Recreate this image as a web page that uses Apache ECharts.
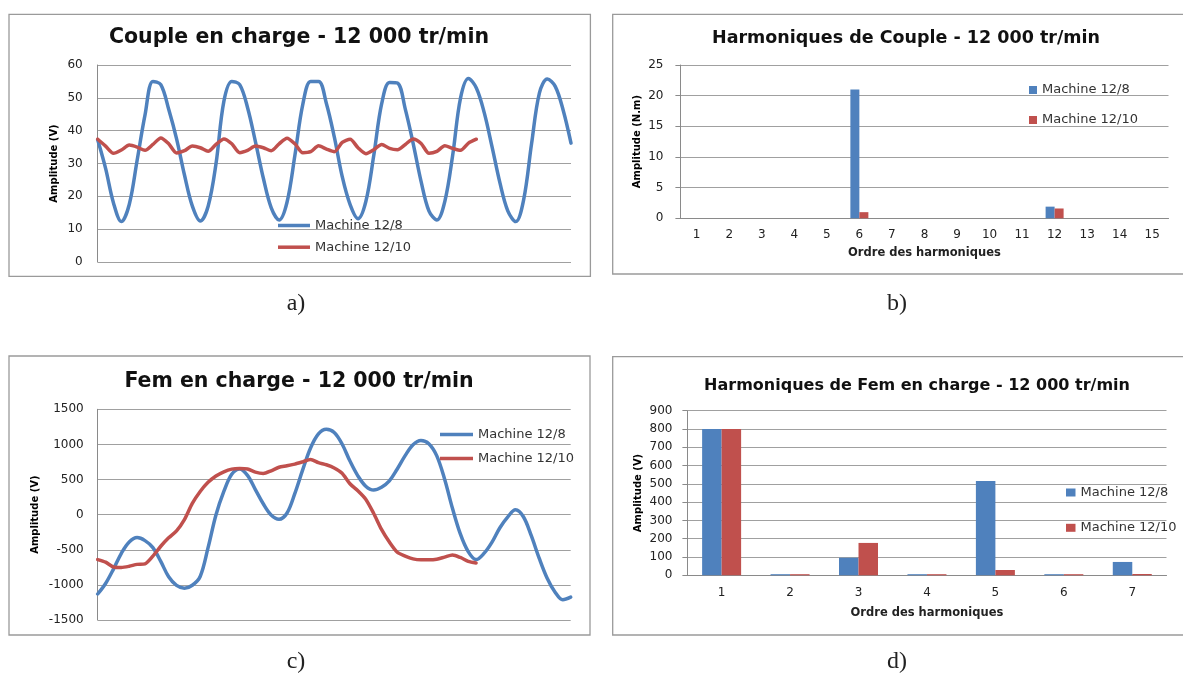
<!DOCTYPE html>
<html><head><meta charset="utf-8">
<script src="https://cdn.jsdelivr.net/npm/echarts@6/dist/echarts.min.js"></script>
<style>html,body{margin:0;padding:0;background:#fff}#c{width:1183px;height:678px}</style>
</head><body><div id="c"></div>
<script>
const sampleIndex = [1,2,3,4,5,6,7,8,9,10,11,12,13,14,15,16,17,18,19,20,21,22,23,24,25,26,27,28,29,30,31,32,33,34,35,36,37,38,39,40,41,42,43,44,45,46,47,48,49,50,51,52,53,54,55,56,57,58,59,60,61];
const seriesNames = ['Machine 12/8', 'Machine 12/10'];

const coupleBlue = [37.2, 28.5, 18, 12.3, 17.5, 31, 44.8, 55, 54, 46.5,
 37.5, 26.5, 17, 12.5, 17, 30, 49, 55, 54, 47,
 36.6, 25.5, 16.5, 12.8, 18.2, 32.5, 48, 55, 55, 48.2,
 38, 26, 17.5, 13.2, 18.5, 32.5, 48.2, 54.7, 54.5, 46.5,
 36, 24.5, 15.5, 12.8, 18.4, 32.5, 50, 55.9, 53, 45.5,
 35, 24, 15.5, 12.3, 19, 36, 51.5, 55.7, 53.5, 46.3,
 36.2];
const coupleRed = [37.4, 35.3, 33.1, 34.1, 35.6, 35.0, 34.0, 35.8, 37.8, 36.0,
 33.2, 33.9, 35.3, 34.8, 33.7, 35.8, 37.5, 36.0, 33.3, 34.0,
 35.3, 34.8, 33.9, 36.0, 37.7, 36.0, 33.3, 33.6, 35.4, 34.4,
 33.6, 36.4, 37.4, 34.8, 33.0, 34.2, 35.8, 34.6, 34.2, 35.8,
 37.5, 36.1, 33.1, 33.7, 35.4, 34.6, 34.0, 36.2, 37.4];

const harmOrderCouple = ['1','2','3','4','5','6','7','8','9','10','11','12','13','14','15'];
const harmCoupleBlue = [0, 0, 0, 0, 0, 21, 0, 0, 0, 0, 0, 1.9, 0, 0, 0];
const harmCoupleRed  = [0, 0, 0, 0, 0, 1.0, 0, 0, 0, 0, 0, 1.6, 0, 0, 0];

const femBlue = [-1130, -980, -775, -550, -390, -327, -370, -470, -665, -885,
 -1007, -1047, -1005, -880, -470, -5, 330, 575, 650, 560,
 357, 155, -5, -65, 20, 300, 637, 950, 1150, 1215,
 1170, 1006, 763, 553, 405, 350, 390, 480, 650, 840,
 995, 1055, 1010, 840, 507, 90, -275, -527, -640, -552,
 -395, -190, -35, 68, -30, -300, -620, -902, -1100, -1212,
 -1175];
const femRed = [-640, -677, -745, -752, -735, -708, -700, -590, -450, -330,
 -230, -70, 160, 330, 460, 550, 610, 648, 657, 650,
 605, 586, 625, 675, 695, 720, 752, 786, 740, 710,
 665, 590, 440, 340, 220, 20, -210, -390, -535, -590,
 -630, -643, -643, -635, -605, -575, -610, -665, -688];

const harmOrderFem = ['1','2','3','4','5','6','7'];
const harmFemBlue = [800, 6, 96, 6, 516, 6, 73];
const harmFemRed  = [800, 6, 177, 6, 29, 6, 7];

const BLUE = '#4F81BD', RED = '#C0504D';
const GRID = '#a0a0a0', AXIS = '#8a8a8a';
const FF = 'DejaVu Sans';

function lineX(gi) {
  return { type: 'category', gridIndex: gi, data: sampleIndex, boundaryGap: false,
    axisLine: { show: false }, axisTick: { show: false }, axisLabel: { show: false }, splitLine: { show: false } };
}
function valY(gi, min, max, step, name, nameGap, margin, ticks) {
  return { type: 'value', gridIndex: gi, min: min, max: max, interval: step,
    name: name, nameLocation: 'middle', nameGap: nameGap,
    nameTextStyle: { fontFamily: FF, fontSize: 10, fontWeight: 'bold', color: '#000' },
    axisLine: { show: true, lineStyle: { color: AXIS, width: 1 } },
    axisTick: { show: ticks, length: 5, inside: false, lineStyle: { color: AXIS } },
    axisLabel: { fontFamily: FF, fontSize: 12, color: '#222', margin: margin,
      formatter: function (v) { return String(v); } },
    splitLine: { show: true, lineStyle: { color: GRID, width: 1 } } };
}
function catX(gi, data, margin, nameGap) {
  return { type: 'category', gridIndex: gi, data: data, boundaryGap: true,
    name: 'Ordre des harmoniques', nameLocation: 'middle', nameGap: nameGap,
    nameTextStyle: { fontFamily: FF, fontSize: 11.5, fontWeight: 'bold', color: '#222' },
    axisLine: { show: true, lineStyle: { color: AXIS, width: 1 } },
    axisTick: { show: false },
    axisLabel: { fontFamily: FF, fontSize: 12, color: '#222', margin: margin, interval: 0 },
    splitLine: { show: false } };
}
function lineSeries(name, data, color, xi, smooth) {
  return { type: 'line', name: name, data: data, xAxisIndex: xi, yAxisIndex: xi,
    symbol: 'none', smooth: smooth, color: color,
    lineStyle: { color: color, width: 3.5, cap: 'round', join: 'round' } };
}
function barSeries(name, data, color, xi, w) {
  return { type: 'bar', name: name, data: data, xAxisIndex: xi, yAxisIndex: xi,
    barWidth: w, barGap: '0%', color: color, itemStyle: { color: color } };
}
function titleAt(text, cx, cy, size) {
  return { text: text, left: cx, top: cy, textAlign: 'center', textVerticalAlign: 'middle', padding: 0,
    textStyle: { fontFamily: FF, fontSize: size, fontWeight: 'bold', color: '#111' } };
}
function legendAt(left, top, iw, ih, gap) {
  return { data: seriesNames, orient: 'vertical', left: left, top: top, padding: 0,
    icon: 'rect', itemWidth: iw, itemHeight: ih, itemGap: gap, selectedMode: false,
    textStyle: { fontFamily: FF, fontSize: 13, color: '#333' } };
}
function caption(t, x, y) {
  return { type: 'text', x: x, y: y, silent: true,
    style: { text: t, font: '24px "Liberation Serif"', fill: '#222',
      align: 'center', verticalAlign: 'middle', textAlign: 'center', textVerticalAlign: 'middle' } };
}
function frame(x, y, w, h) {
  return { type: 'rect', silent: true, shape: { x: x, y: y, width: w, height: h },
    style: { fill: 'none', stroke: '#9a9a9a', lineWidth: 1.3 } };
}

const option = {
  animation: false,
  backgroundColor: '#fff',
  title: [
    titleAt('Couple en charge - 12 000 tr/min', 299, 38, 20.5),
    titleAt('Harmoniques de Couple - 12 000 tr/min', 906, 38, 17.5),
    titleAt('Fem en charge - 12 000 tr/min', 299, 382, 20.5),
    titleAt('Harmoniques de Fem en charge - 12 000 tr/min', 917, 386, 16)
  ],
  legend: [
    legendAt(278, 219, 32, 3.5, 8.7),
    legendAt(1029, 83.5, 8, 8, 17),
    legendAt(440, 428, 33, 3.5, 11),
    legendAt(1066, 486, 9.5, 8, 22.3)
  ],
  grid: [
    { left: 97.7, top: 65, width: 473.3, height: 197 },
    { left: 680.4, top: 65, width: 488.1, height: 153.3 },
    { left: 97.7, top: 409.3, width: 473, height: 210.7 },
    { left: 687.4, top: 410.7, width: 479.1, height: 164.6 }
  ],
  xAxis: [
    lineX(0),
    catX(1, harmOrderCouple, 11, 29),
    lineX(2),
    catX(3, harmOrderFem, 11.5, 32)
  ],
  yAxis: [
    valY(0, 0, 60, 10, 'Amplitude (V)', 38, 15, false),
    valY(1, 0, 25, 5, 'Amplitude (N.m)', 38, 17, true),
    valY(2, -1500, 1500, 500, 'Amplitude (V)', 57, 14, false),
    valY(3, 0, 900, 100, 'Amplitude (V)', 44, 15, true)
  ],
  series: [
    lineSeries(seriesNames[0], coupleBlue, BLUE, 0, 0.35),
    lineSeries(seriesNames[1], coupleRed, RED, 0, 0.25),
    barSeries(seriesNames[0], harmCoupleBlue, BLUE, 1, 9),
    barSeries(seriesNames[1], harmCoupleRed, RED, 1, 9),
    lineSeries(seriesNames[0], femBlue, BLUE, 2, 0.35),
    lineSeries(seriesNames[1], femRed, RED, 2, 0.25),
    barSeries(seriesNames[0], harmFemBlue, BLUE, 3, 19.5),
    barSeries(seriesNames[1], harmFemRed, RED, 3, 19.5)
  ],
  graphic: [
    frame(9, 14.3, 581.4, 262),
    frame(612.7, 14.3, 600, 259.7),
    frame(9, 356, 581, 279),
    frame(612.7, 356.7, 600, 278.3),
    caption('a)', 296, 304),
    caption('b)', 897, 304),
    caption('c)', 296, 662),
    caption('d)', 897, 662)
  ]
};

const chart = echarts.init(document.getElementById('c'), null, { renderer: 'canvas' });
chart.setOption(option);
</script>
</body></html>
